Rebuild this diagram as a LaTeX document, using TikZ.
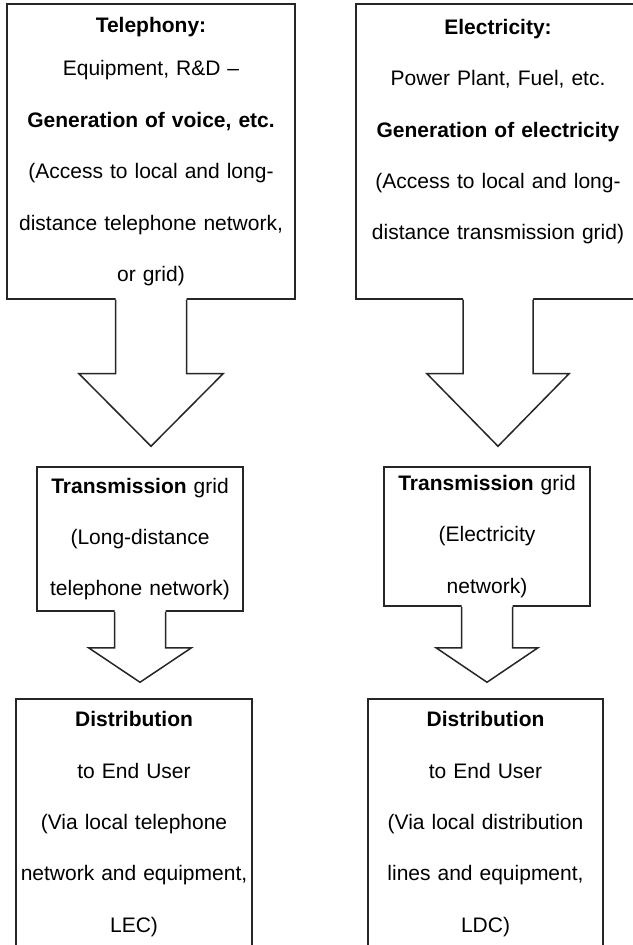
\documentclass[tikz,border=0pt]{standalone}
\usepackage{fontspec}
\setmainfont{Liberation Sans}
\usepackage{tikz}
\usetikzlibrary{calc}

\tikzset{
  panel/.style={draw=black!85, line width=0.75pt, align=center, inner xsep=0pt,
    font=\fontsize{10.5}{25.7}\selectfont},
  blockline/.style={draw=black!85, line width=0.75pt, line join=miter}
}
% from, to, shaft half width, head half width, shaft length, gap to next box
\newcommand{\blockarrow}[6]{%
  \fill[white] ($(#1.south)+(-#3,-2)$) -- ($(#1.south)+(-#3,#5)$) -- ($(#1.south)+(-#4,#5)$)
    -- ($(#1.south |- #2.north)+(0,-#6)$) -- ($(#1.south)+(#4,#5)$) -- ($(#1.south)+(#3,#5)$)
    -- ($(#1.south)+(#3,-2)$) -- cycle;
  \draw[blockline] ($(#1.south)+(-#3,0)$) -- ($(#1.south)+(-#3,#5)$) -- ($(#1.south)+(-#4,#5)$)
    -- ($(#1.south |- #2.north)+(0,-#6)$) -- ($(#1.south)+(#4,#5)$) -- ($(#1.south)+(#3,#5)$)
    -- ($(#1.south)+(#3,0)$);%
}

\begin{document}
\begin{tikzpicture}[x=0.5pt,y=-0.5pt]
\useasboundingbox (0,0) rectangle (632,945);

% generation
\node[panel, text width=144pt, minimum height=147.5pt] (tel) at (151,151.5)
  {\textbf{Telephony:}\\[-4pt] Equipment, R\&D --\\ \textbf{Generation of voice, etc.}\\
   (Access to local and long-\\ distance telephone network,\\ or grid)};
\node[panel, text width=142pt, minimum height=147.5pt] (ele) at (498,151.5)
  {\textbf{Electricity:}\\ Power Plant, Fuel, etc.\\ \textbf{Generation of electricity}\\
   (Access to local and long-\\ distance transmission grid)\\[-3.7pt] ~};

% transmission
\node[panel, text width=103pt, minimum height=72pt] (teltx) at (140,539)
  {\textbf{Transmission} grid\\ (Long-distance\\ telephone network)};
\node[panel, text width=103pt, minimum height=69.5pt] (eletx) at (487,536.5)
  {\textbf{Transmission} grid\\ (Electricity\\ network)};

% distribution
\node[panel, text width=118pt, minimum height=125pt] (teldist) at (134,824)
  {\textbf{Distribution}\\ to End User\\ (Via local telephone\\ network and equipment,\\ LEC)};
\node[panel, text width=117.5pt, minimum height=125pt] (eledist) at (485.5,824)
  {\textbf{Distribution}\\ to End User\\ (Via local distribution\\ lines and equipment,\\ LDC)};

% arrows
\blockarrow{tel}{teltx}{35.5}{72}{74}{20}
\blockarrow{ele}{eletx}{35}{71}{74}{20}
\blockarrow{teltx}{teldist}{25.5}{51.5}{36}{16}
\blockarrow{eletx}{eledist}{25.5}{51}{41}{16}
\end{tikzpicture}
\end{document}
